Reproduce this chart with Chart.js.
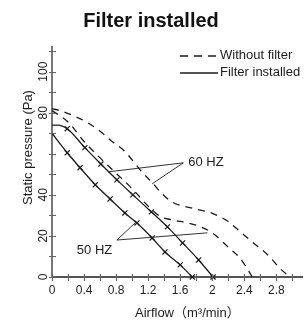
<!DOCTYPE html>
<html>
<head>
<meta charset="utf-8">
<script src="https://cdn.jsdelivr.net/npm/chart.js@4.4.0/dist/chart.umd.min.js"></script>
<style>
    html, body { margin: 0; padding: 0; background: #fff; }
    #wrap { width: 307px; height: 323px; }
</style>
</head>
<body>
<div id="wrap"><canvas id="chartFan"></canvas></div>
<script>
// Airflow (m3/min) and static pressure (Pa)
const flowOpen60 = [0, 0.1, 0.3, 0.45, 0.6, 0.75, 0.9, 1.0, 1.125, 1.25, 1.375, 1.5, 1.75, 2.0, 2.2, 2.35, 2.5, 2.7, 2.85, 2.97];
const presOpen60 = [82, 81, 78, 75, 71, 66, 61.5, 57, 51, 46, 40.5, 36.5, 33.5, 31, 27, 22, 17, 10.5, 4, 0];

const flowOpen50 = [0, 0.1, 0.2, 0.4, 0.6, 0.8, 0.95, 1.06, 1.2, 1.35, 1.5, 1.7, 1.85, 2.0, 2.2, 2.35, 2.5];
const presOpen50 = [81, 78.5, 75.5, 66, 58, 50.5, 45, 40.5, 34.5, 29.5, 27.8, 26.3, 24.5, 21.5, 14.5, 9, 0];

const flowFilter60 = [0, 0.07, 0.19, 0.41, 0.61, 0.81, 1.01, 1.24, 1.44, 1.63, 1.83, 2.01];
const presFilter60 = [74, 74, 72.2, 63, 55, 47.3, 40, 31.7, 24.4, 16.6, 8.3, 0];

const flowFilter50 = [0, 0.19, 0.35, 0.54, 0.725, 0.91, 1.06, 1.25, 1.41, 1.6, 1.75];
const presFilter50 = [70, 60.5, 53.2, 44.9, 38, 31.2, 26.3, 19, 12.2, 5.9, 0];

// leader lines for the HZ callouts (end, corner, end)
const lead60Flow = [0.70, 1.64, 1.25];
const lead60Pres = [51.2, 55.6, 45.4];
const lead50Flow = [1.05, 0.81, 1.94];
const lead50Pres = [26.8, 18.0, 21.5];

const hzLabels = ['60 HZ', '50 HZ'];
const hzFlow = [1.70, 0.31];
const hzPres = [55.6, 12.9];

const legendLabels = ['Without filter', 'Filter installed'];

const fontFam = "'Liberation Sans', Arial, 'Noto Sans CJK JP', sans-serif";
const ink = '#1c1c1c';

function pts(xs, ys) {
    return xs.map((x, i) => ({ x: x, y: ys[i] }));
}

function curve(xs, ys, dashed, markFrom) {
    return {
        data: pts(xs, ys),
        showLine: true,
        borderColor: ink,
        borderWidth: 1.3,
        borderDash: dashed ? [7, 6] : [],
        cubicInterpolationMode: 'monotone',
        pointStyle: 'crossRot',
        pointRadius: ctx => (markFrom >= 0 && ctx.dataIndex >= markFrom) ? 3.6 : 0,
        pointBorderColor: ink,
        pointBorderWidth: 1.2,
        pointHoverRadius: 0,
        clip: false
    };
}

function leader(xs, ys) {
    return {
        data: pts(xs, ys),
        showLine: true,
        borderColor: ink,
        borderWidth: 0.9,
        tension: 0,
        pointRadius: 0,
        pointHoverRadius: 0
    };
}

// ticks crossing the axes, callouts, legend and axis titles
const decor = {
    id: 'decor',
    afterDraw(chart) {
        const ctx = chart.ctx;
        const xs = chart.scales.x, ys = chart.scales.y;
        const area = chart.chartArea;
        ctx.save();

        ctx.lineWidth = 1.2;
        ctx.strokeStyle = '#666';
        ctx.beginPath();
        xs.ticks.forEach(t => {
            const px = Math.round(xs.getPixelForValue(t.value)) + 0.5;
            ctx.moveTo(px, area.bottom - 3);
            ctx.lineTo(px, area.bottom + 4);
        });
        ys.ticks.forEach(t => {
            const py = Math.round(ys.getPixelForValue(t.value)) + 0.5;
            ctx.moveTo(area.left - 3, py);
            ctx.lineTo(area.left + 4, py);
        });
        ctx.stroke();

        ctx.fillStyle = ink;
        ctx.font = '13px ' + fontFam;
        ctx.textBaseline = 'middle';
        ctx.textAlign = 'left';
        hzLabels.forEach((txt, i) => {
            ctx.fillText(txt, xs.getPixelForValue(hzFlow[i]), ys.getPixelForValue(hzPres[i]));
        });

        // legend
        ctx.strokeStyle = ink;
        ctx.lineWidth = 1.3;
        ctx.setLineDash([8, 6]);
        ctx.beginPath();
        ctx.moveTo(180, 56);
        ctx.lineTo(217, 56);
        ctx.stroke();
        ctx.setLineDash([]);
        ctx.beginPath();
        ctx.moveTo(180, 73);
        ctx.lineTo(218, 73);
        ctx.stroke();
        ctx.fillText(legendLabels[0], 220, 55);
        ctx.fillText(legendLabels[1], 220, 72.5);

        // axis titles
        ctx.fillText('Airflow\uFF08m\u00B3/min\uFF09', 135, 313);
        ctx.translate(28, 147.5);
        ctx.rotate(-Math.PI / 2);
        ctx.textAlign = 'center';
        ctx.fillText('Static pressure (Pa)', 0, 0);
        ctx.restore();
    }
};

Chart.defaults.font.family = fontFam;
Chart.defaults.color = ink;

new Chart(document.getElementById('chartFan'), {
    type: 'scatter',
    data: {
        datasets: [
            curve(flowOpen60, presOpen60, true, -1),
            curve(flowOpen50, presOpen50, true, -1),
            curve(flowFilter60, presFilter60, false, 2),
            curve(flowFilter50, presFilter50, false, 1),
            leader(lead60Flow, lead60Pres),
            leader(lead50Flow, lead50Pres)
        ]
    },
    options: {
        responsive: true,
        maintainAspectRatio: false,
        animation: false,
        layout: { padding: { left: 0, right: 5, top: 0, bottom: 0 } },
        plugins: {
            legend: { display: false },
            tooltip: { enabled: false },
            title: {
                display: true,
                text: 'Filter installed',
                color: '#111',
                font: { size: 20, weight: 'bold' },
                padding: { top: 9, bottom: 14 }
            }
        },
        scales: {
            x: {
                type: 'linear',
                min: 0,
                max: 3.12,
                grid: { display: true, drawOnChartArea: false, drawTicks: false },
                border: { color: '#555', width: 2 },
                ticks: {
                    stepSize: 0.2,
                    includeBounds: false,
                    padding: 6,
                    maxRotation: 0,
                    autoSkip: false,
                    font: { size: 12 },
                    callback: v => {
                        const k = Math.round(v * 10);
                        return (k % 4 === 0 && k <= 28) ? String(k / 10) : '';
                    }
                },
                afterFit: s => { s.height = 46; }
            },
            y: {
                type: 'linear',
                min: 0,
                max: 112,
                grid: { display: true, drawOnChartArea: false, drawTicks: false },
                border: { color: '#777', width: 2 },
                ticks: {
                    stepSize: 10,
                    includeBounds: false,
                    minRotation: 90,
                    maxRotation: 90,
                    crossAlign: 'center',
                    padding: -1.5,
                    autoSkip: false,
                    font: { size: 12 },
                    callback: v => {
                        const k = Math.round(v);
                        return (k % 20 === 0 && k <= 100 && k !== 60) ? String(k) : '';
                    }
                },
                afterFit: s => { s.width = 52; }
            }
        }
    },
    plugins: [decor]
});
</script>
</body>
</html>
